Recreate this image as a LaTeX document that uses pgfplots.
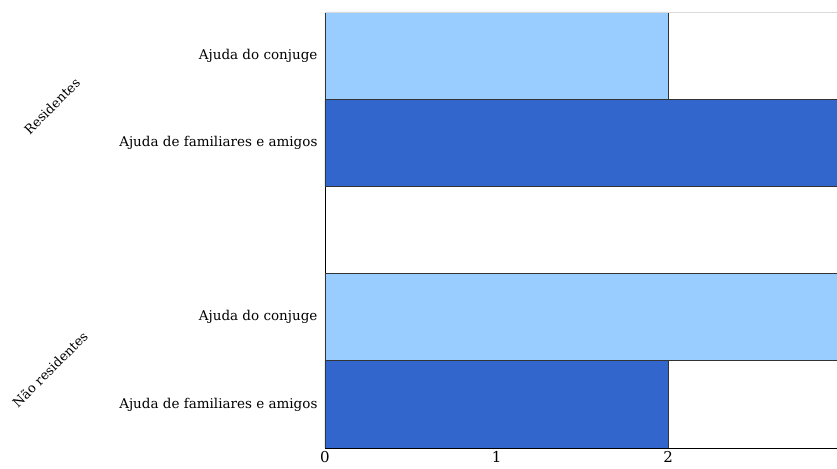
\documentclass[border=0pt]{standalone}
\usepackage{fontspec}
\setmainfont{DejaVu Serif}
\usepackage{pgfplots}
\pgfplotsset{compat=1.18}
\definecolor{lightb}{HTML}{99CCFF}
\definecolor{darkb}{HTML}{3366CC}
\begin{document}
\begin{tikzpicture}
\begin{axis}[
  name=ax,
  scale only axis,
  width=512pt, height=436pt,
  xbar, bar width=1, bar shift=0pt,
  xmin=0, xmax=2.985,
  ymin=-0.5, ymax=4.5,
  axis x line*=bottom, axis y line*=left,
  axis line style={black, line width=0.8pt},
  xtick={0,1,2}, ytick={0,1,3,4},
  yticklabels={Ajuda de familiares e amigos, Ajuda do conjuge, Ajuda de familiares e amigos, Ajuda do conjuge},
  major tick length=0pt,
  tick label style={font=\fontsize{13.5pt}{15pt}\selectfont, text=black},
  yticklabel style={xshift=-4pt},
  xticklabel style={yshift=0pt, font=\fontsize{15pt}{17pt}\selectfont},
  /pgf/number format/assume math mode=true,
  clip=true,
]
\addplot[fill=darkb, draw=black!80, line width=0.8pt] coordinates {(2,0) (3,3)};
\addplot[fill=lightb, draw=black!80, line width=0.8pt] coordinates {(3,1) (2,4)};
\draw[black!15, line width=0.8pt] (rel axis cs:0,1) -- (rel axis cs:1,1);
\end{axis}
\node[rotate=45, font=\fontsize{13pt}{15pt}\selectfont] at ([shift={(-273pt,{(3.42+0.5)*87.2pt})}]ax.south west) {Residentes};
\node[rotate=45, font=\fontsize{13pt}{15pt}\selectfont] at ([shift={(-275pt,{(0.40+0.5)*87.2pt})}]ax.south west) {Não residentes};
\pgfresetboundingbox
\useasboundingbox ([shift={(-325pt,-20pt)}]ax.south west) rectangle ([shift={(0pt,12pt)}]ax.north east);
\end{tikzpicture}
\end{document}
